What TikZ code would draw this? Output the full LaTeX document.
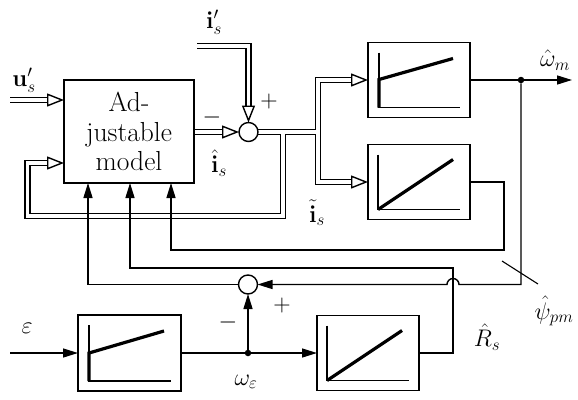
\RequirePackage{fix-cm}
\documentclass[tikz,border=0pt]{standalone}
\usepackage{amsmath}
\usetikzlibrary{arrows.meta,calc}
\DeclareMathSizes{24}{24}{17}{13}
\pgfdeclarelayer{background}
\pgfsetlayers{background,main}
\begin{document}
\begin{tikzpicture}[x=1pt,y=-1pt,
  thinl/.style={line width=1.4pt},
  thickl/.style={line width=3.2pt},
  blk/.style={draw, line width=1.4pt, minimum width=102pt, minimum height=75pt, inner sep=0pt, outer sep=0pt},
  sumc/.style={draw, circle, line width=1.4pt, minimum size=19pt, inner sep=0pt, outer sep=0pt, fill=white},
  outerd/.style={line width=6.6pt, line join=miter},
  innerd/.style={line width=3.8pt, white, line join=miter},
  sarr/.style={thinl, -{Triangle[length=15pt,width=9pt]}},
  dtip/.style={thinl, -{Triangle[fill=white, length=17pt, width=13pt]}},
  lbl/.style={font=\fontsize{24}{28}\selectfont, inner sep=0pt},
  dotn/.style={circle, fill, minimum size=6.5pt, inner sep=0pt}
]
\useasboundingbox (0,0) rectangle (578,399);

% blocks
\node[blk, minimum width=130pt, minimum height=103pt, align=center,
      font=\fontsize{27.5}{29.5}\selectfont] (model) at (129,131.5) {Ad-\\justable\\model};
\node[sumc] (s1) at (248.5,132) {};
\node[blk] (b1) at (419,80) {};
\node[blk] (b2) at (419,182) {};
\node[blk, minimum width=103pt, minimum height=76pt] (b3) at (129.5,353) {};
\node[blk] (b4) at (368,353) {};
\node[sumc] (s2) at (248,284.5) {};
\node[dotn] (d1) at (521,80) {};
\node[dotn] (d2) at (248,353) {};

% icons
\newcommand\piicon[1]{%
  \draw[thinl] ($(#1.north west)+(11,10)$) -- ($(#1.south west)+(11,-10)$) -- ($(#1.south east)+(-10,-10)$);
  \draw[thickl] ($(#1.south west)+(11,-10)$) -- ++(0,-28) -- ($(#1.north east)+(-17,16)$);}
\newcommand\iicon[1]{%
  \draw[thinl] ($(#1.north west)+(10,10)$) -- ($(#1.south west)+(10,-10)$) -- ($(#1.south east)+(-10,-10)$);
  \draw[thickl] ($(#1.south west)+(10,-10)$) -- ($(#1.north east)+(-17,15)$);}
\piicon{b1}
\iicon{b2}
\piicon{b3}
\iicon{b4}

% coordinates
\coordinate (uin) at (10,100);
\coordinate (uend) at (uin -| model.west);
\coordinate (iin) at (197,46);
\coordinate (ic) at (iin -| s1.north);
\coordinate (me) at (model.east |- s1.west);
\coordinate (J1) at (283,132);
\coordinate (J2) at (318,132);
\coordinate (J2u) at (J2 |- b1.west);
\coordinate (J2d) at (J2 |- b2.west);
\coordinate (L1) at (283,216);
\coordinate (L2) at (27.5,216);
\coordinate (L3) at (27.5,163);
\coordinate (L4) at (L3 -| model.west);
\coordinate (wout) at (572,80);
\coordinate (P1) at (521,284.5);
\coordinate (P2) at (459,284.5);
\coordinate (Q1) at (504,182);
\coordinate (Q2) at (504,250);
\coordinate (Q3) at (171,250);
\coordinate (R1) at (453,353);
\coordinate (R2) at (453,268);
\coordinate (R3) at (130,268);
\coordinate (T1) at (88,284.5);
\coordinate (ein) at (10,353);
\coordinate (pa) at (502,261);
\coordinate (pb) at (538,284);

\begin{pgfonlayer}{background}
% double (vector) lines
\foreach \st in {outerd,innerd}{
  \draw[\st] (uin) -- ($(uend)+(-17,0)$);
  \draw[\st] (iin) -- (ic) -- ($(s1.north)+(0,-17)$);
  \draw[\st] (me) -- ($(s1.west)+(-17,0)$);
  \draw[\st] (s1.east) -- (J2);
  \draw[\st] ($(b1.west)+(-17,0)$) -- (J2u) -- (J2d) -- ($(b2.west)+(-17,0)$);
  \draw[\st] (J1) -- (L1) -- (L2) -- (L3) -- ($(L4)+(-17,0)$);
}
\draw[dtip] ($(uend)+(-17,0)$) -- (uend);
\draw[dtip] ($(s1.north)+(0,-17)$) -- (s1.north);
\draw[dtip] ($(s1.west)+(-17,0)$) -- (s1.west);
\draw[dtip] ($(b1.west)+(-17,0)$) -- (b1.west);
\draw[dtip] ($(b2.west)+(-17,0)$) -- (b2.west);
\draw[dtip] ($(L4)+(-17,0)$) -- (L4);

% scalar lines
\draw[sarr] (b1.east) -- (wout);
\draw[sarr] (d1) -- (P1) -- (P2) arc[start angle=0, end angle=180, radius=6pt] -- (s2.east);
\draw[sarr] (b2.east) -- (Q1) -- (Q2) -- (Q3) -- (Q3 |- model.south);
\draw[sarr] (b4.east) -- (R1) -- (R2) -- (R3) -- (R3 |- model.south);
\draw[sarr] (s2.west) -- (T1) -- (T1 |- model.south);
\draw[sarr] (ein) -- (b3.west);
\draw[sarr] (b3.east) -- (b4.west);
\draw[sarr] (d2) -- (s2.south);
\draw[line width=1.1pt] (pa) -- (pb);
\end{pgfonlayer}

% labels
\node[lbl] (lu) at (24,80) {$\mathbf{u}'_s$};
\node[lbl] (li) at (214,22) {$\mathbf{i}'_s$};
\node[lbl] (lp1) at (269,101) {$+$};
\node[lbl] (lm1) at (212,117) {$-$};
\node[lbl] (lih) at (219,163) {$\hat{\mathbf{i}}_s$};
\node[lbl] (lit) at (317,213) {$\tilde{\mathbf{i}}_s$};
\node[lbl] (lw) at (555,60) {$\hat{\omega}_m$};
\node[lbl] (lpsi) at (554,311) {$\hat{\psi}_{pm}$};
\node[lbl] (lR) at (487,337) {$\hat{R}_s$};
\node[lbl] (lm2) at (228,322) {$-$};
\node[lbl] (lp2) at (282,305) {$+$};
\node[lbl] (le) at (27,328) {$\varepsilon$};
\node[lbl] (lwe) at (246,382) {$\omega_\varepsilon$};
\end{tikzpicture}
\end{document}
